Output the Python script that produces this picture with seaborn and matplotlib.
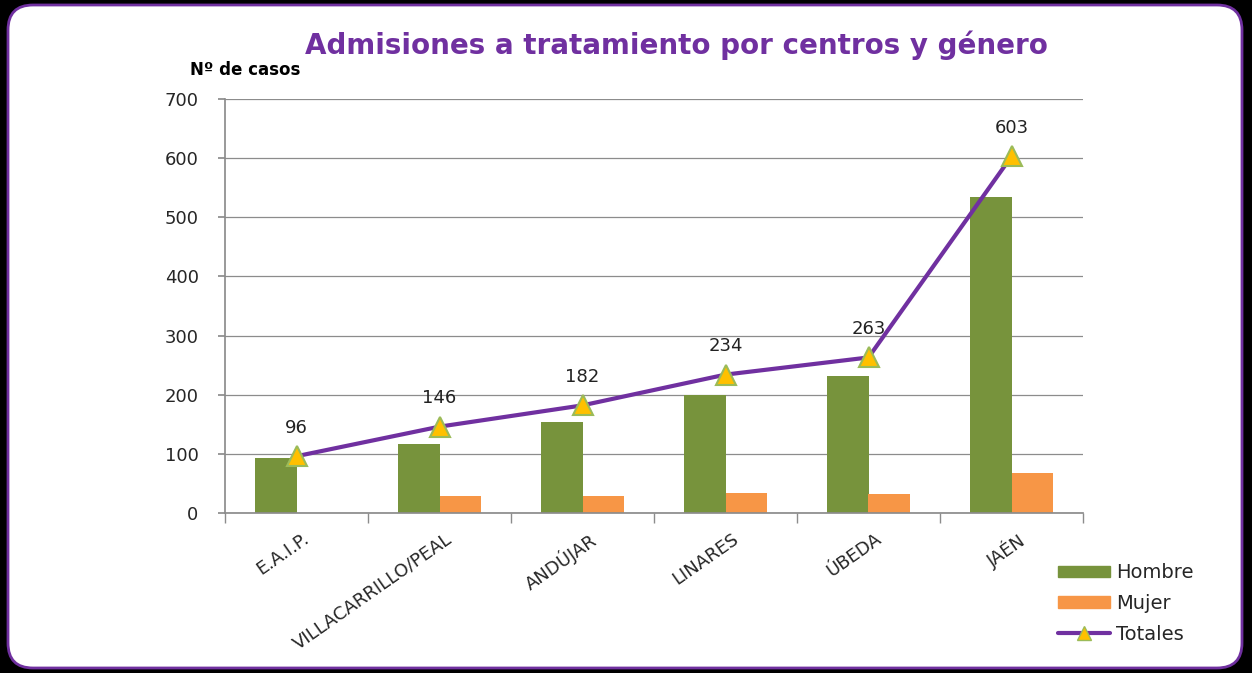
import numpy as np
import pandas as pd
import matplotlib
matplotlib.use("Agg")
import matplotlib.pyplot as plt
import seaborn as sns
from matplotlib.patches import FancyBboxPatch, Patch
from matplotlib.lines import Line2D

# Data
centros = ["E.A.I.P.", "VILLACARRILLO/PEAL", "ANDÚJAR", "LINARES", "ÚBEDA", "JAÉN"]
hombre = [93, 117, 154, 200, 231, 535]
mujer = [0, 29, 28, 34, 32, 68]
totales = [96, 146, 182, 234, 263, 603]

green = "#77933C"
orange = "#F79646"
purple = "#7030A0"

sns.set_theme(style="white")
plt.rcParams["font.family"] = ["DejaVu Sans"]

df = pd.DataFrame({
    "centro": centros * 2,
    "casos": hombre + mujer,
    "sexo": ["Hombre"] * len(centros) + ["Mujer"] * len(centros),
})

fig = plt.figure(figsize=(12.52, 6.73), dpi=100, facecolor="black")

# white rounded panel with purple border
panel = FancyBboxPatch((8 / 1252, 1 - 668 / 673), (1242 - 8) / 1252, (668 - 5) / 673,
                       boxstyle="round,pad=0,rounding_size=0.02",
                       mutation_aspect=1252 / 673,
                       transform=fig.transFigure, facecolor="white",
                       edgecolor=purple, linewidth=2, zorder=-5)
fig.patches.append(panel)

ax = fig.add_axes([225 / 1252, 1 - 513 / 673, (1083 - 225) / 1252, (513 - 99) / 673])
ax.set_facecolor("none")

sns.barplot(data=df, x="centro", y="casos", hue="sexo", order=centros,
            palette={"Hombre": green, "Mujer": orange}, width=0.58, gap=0,
            saturation=1, legend=False, linewidth=0, ax=ax, zorder=2)

x = np.arange(len(centros))
ax.plot(x, totales, color=purple, linewidth=3, zorder=3,
        marker="^", markersize=15, markerfacecolor="#FFC000",
        markeredgecolor="#9BBB59", markeredgewidth=1.5)
for xi, t in zip(x, totales):
    ax.annotate(str(t), (xi, t), xytext=(0, 14), textcoords="offset points",
                ha="center", va="bottom", fontsize=13, color="#222222", zorder=4)

ax.set_ylim(0, 700)
ax.set_xlim(-0.5, len(centros) - 0.5)
ax.set_yticks(range(0, 701, 100))
ax.yaxis.grid(True, color="#8c8c8c", linewidth=0.9)
ax.set_axisbelow(True)
for s in ["top", "right"]:
    ax.spines[s].set_visible(False)
ax.spines["left"].set_color("#8c8c8c")
ax.spines["bottom"].set_color("#8c8c8c")

ax.set_xticks(x + 0.04)
ax.set_xticklabels(centros, rotation=35, ha="right", rotation_mode="anchor", fontsize=13)
ax.set_xticks(np.arange(-0.5, len(centros), 1), minor=True)
ax.tick_params(axis="x", which="major", length=0, pad=12)
ax.tick_params(axis="x", which="minor", length=7, color="#8c8c8c", direction="out", bottom=True)
ax.tick_params(axis="y", length=5, color="#8c8c8c", direction="out", left=True, labelsize=13, pad=14)
ax.set_xlabel("")
ax.set_ylabel("")

fig.text(676 / 1252, 1 - 45 / 673, "Admisiones a tratamiento por centros y género",
         ha="center", va="center", fontsize=20, fontweight="bold", color=purple)
fig.text(190 / 1252, 1 - 70 / 673, "Nº de casos", ha="left", va="center",
         fontsize=12, fontweight="bold", color="black")

handles = [
    Patch(facecolor=green, edgecolor=green),
    Patch(facecolor=orange, edgecolor=orange),
    Line2D([0], [0], color=purple, linewidth=3, marker="^", markersize=10,
           markerfacecolor="#FFC000", markeredgecolor="#9BBB59"),
]
fig.legend(handles, ["Hombre", "Mujer", "Totales"], loc="upper left",
           bbox_to_anchor=(1040 / 1252, 1 - 546 / 673), frameon=False,
           fontsize=14, handlelength=2.7, handleheight=0.55,
           labelspacing=0.6, handletextpad=0.3)

fig.savefig("out.png", dpi=100, facecolor=fig.get_facecolor())
